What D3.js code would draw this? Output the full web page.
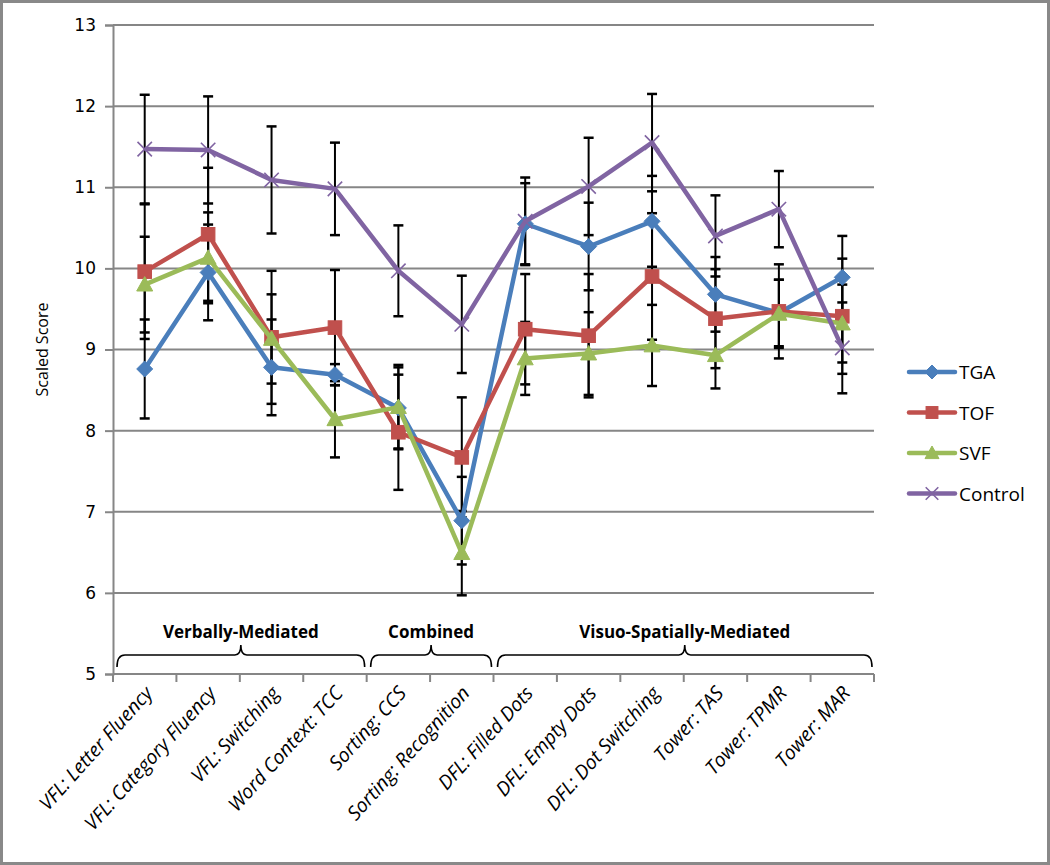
<!DOCTYPE html>
<html>
<head>
<meta charset="utf-8">
<script src="https://cdn.jsdelivr.net/npm/d3@7"></script>
<style>
  body { margin: 0; background: #fff; }
  svg { display: block; }
</style>
</head>
<body>
<div id="chart"></div>
<script>
// categories along the x axis
const categories = [
    "VFL: Letter Fluency", "VFL: Category Fluency", "VFL: Switching", "Word Context: TCC",
    "Sorting: CCS", "Sorting: Recognition", "DFL: Filled Dots", "DFL: Empty Dots",
    "DFL: Dot Switching", "Tower: TAS", "Tower: TPMR", "Tower: MAR"
]

// bracket groups (first and last category index)
const groupNames = ["Verbally-Mediated", "Combined", "Visuo-Spatially-Mediated"]
const groupFrom = [0, 4, 6]
const groupTo = [3, 5, 11]

// means and error bar half-widths
const tga = [8.76, 9.95, 8.78, 8.69, 8.28, 6.89, 10.55, 10.27, 10.58, 9.68, 9.45, 9.89]
const tgaErr = [0.61, 0.59, 0.59, 0.13, 0.50, 0.54, 0.50, 0.54, 0.56, 0.46, 0.41, 0.51]
const tof = [9.96, 10.42, 9.15, 9.27, 7.98, 7.67, 9.25, 9.17, 9.90, 9.38, 9.47, 9.41]
const tofErr = [0.83, 0.82, 0.82, 0.71, 0.71, 0.74, 0.68, 0.76, 0.78, 0.61, 0.58, 0.71]
const svf = [9.80, 10.13, 9.13, 8.14, 8.29, 6.49, 8.89, 8.95, 9.05, 8.93, 9.44, 9.32]
const svfErr = [0.59, 0.56, 0.55, 0.47, 0.52, 0.52, 0.45, 0.51, 0.50, 0.41, 0.42, 0.48]
const control = [11.47, 11.46, 11.09, 10.98, 9.97, 9.31, 10.58, 11.01, 11.55, 10.40, 10.73, 9.02]
const controlErr = [0.67, 0.66, 0.66, 0.57, 0.56, 0.60, 0.54, 0.60, 0.60, 0.50, 0.47, 0.56]

const seriesNames = ["TGA", "TOF", "SVF", "Control"]
const seriesColors = ["#4A7EBB", "#C0504D", "#9BBB59", "#8064A2"]
const seriesMarkers = ["diamond", "square", "triangle", "cross"]
const yTicks = [5, 6, 7, 8, 9, 10, 11, 12, 13]

const series = seriesNames.map((name, i) => ({
    name: name,
    color: seriesColors[i],
    marker: seriesMarkers[i],
    values: [tga, tof, svf, control][i],
    errs: [tgaErr, tofErr, svfErr, controlErr][i]
}))

const W = 1050, H = 865
const plotL = 113, plotR = 874, plotT = 25, plotB = 674
const gridColor = "#868686"

const svg = d3.select("#chart").append("svg")
    .attr("width", W)
    .attr("height", H)

const x = d3.scaleBand().domain(categories).range([plotL, plotR])
const y = d3.scaleLinear().domain([5, 13]).range([plotB, plotT])
const cx = i => x(categories[i]) + x.bandwidth() / 2

// outer border
svg.append("rect")
    .attr("x", 1.5).attr("y", 1.5)
    .attr("width", W - 3).attr("height", H - 3)
    .attr("fill", "#fff")
    .attr("stroke", "#898989")
    .attr("stroke-width", 3)

// gridlines
svg.append("g")
    .selectAll("line")
    .data(yTicks.slice(1))
    .join("line")
    .attr("x1", plotL).attr("x2", plotR)
    .attr("y1", d => y(d)).attr("y2", d => y(d))
    .attr("stroke", gridColor)
    .attr("stroke-width", 2)

// y axis
const yAxis = svg.append("g")
    .attr("transform", `translate(${plotL},0)`)
    .call(d3.axisLeft(y).tickValues(yTicks).tickSize(8).tickPadding(9).tickFormat(d3.format("d")))
yAxis.select(".domain").attr("stroke", gridColor).attr("stroke-width", 2)
yAxis.selectAll(".tick line").attr("stroke", gridColor).attr("stroke-width", 2)
yAxis.selectAll("text")
    .style("font-family", "'DejaVu Sans', sans-serif")
    .style("font-size", "17px")
    .attr("fill", "#000")

// x axis: ticks on the category boundaries
const xAxis = svg.append("g")
    .attr("transform", `translate(0,${plotB})`)
xAxis.append("line")
    .attr("x1", plotL).attr("x2", plotR)
    .attr("stroke", gridColor).attr("stroke-width", 2)
xAxis.selectAll("line.tk")
    .data(d3.range(categories.length + 1))
    .join("line")
    .attr("class", "tk")
    .attr("x1", i => plotL + i * x.step()).attr("x2", i => plotL + i * x.step())
    .attr("y1", 0).attr("y2", 8)
    .attr("stroke", gridColor).attr("stroke-width", 2)

svg.append("g")
    .selectAll("text")
    .data(categories)
    .join("text")
    .attr("transform", (d, i) => `translate(${cx(i) + 9},${plotB + 20}) rotate(-48)`)
    .attr("text-anchor", "end")
    .style("font-family", "'Open Sans', sans-serif")
    .style("font-style", "italic")
    .style("font-size", "19.5px")
    .text(d => d)

// y title
svg.append("text")
    .attr("transform", `translate(48,${(plotT + plotB) / 2}) rotate(-90)`)
    .attr("text-anchor", "middle")
    .style("font-family", "'Open Sans', sans-serif")
    .style("font-size", "16px")
    .text("Scaled Score")

// group braces and labels
const braceTop = 655, braceEnd = 667, braceTip = 645
groupNames.forEach((name, g) => {
    const x0 = x(categories[groupFrom[g]]) + 4
    const x1 = x(categories[groupTo[g]]) + x.bandwidth() - 2
    const mid = (x0 + x1) / 2
    const p = d3.path()
    p.moveTo(x0, braceEnd)
    p.quadraticCurveTo(x0, braceTop, x0 + 8, braceTop)
    p.lineTo(mid - 6, braceTop)
    p.quadraticCurveTo(mid, braceTop, mid, braceTip)
    p.quadraticCurveTo(mid, braceTop, mid + 6, braceTop)
    p.lineTo(x1 - 8, braceTop)
    p.quadraticCurveTo(x1, braceTop, x1, braceEnd)
    svg.append("path")
        .attr("d", p.toString())
        .attr("fill", "none")
        .attr("stroke", "#000")
        .attr("stroke-width", 1.6)
    svg.append("text")
        .attr("x", mid)
        .attr("y", 638)
        .attr("text-anchor", "middle")
        .style("font-family", "'Open Sans', sans-serif")
        .style("font-weight", "bold")
        .style("font-size", "17px")
        .text(name)
})

// error bars
const capW = 5
const errG = svg.append("g")
series.forEach(s => {
    s.values.forEach((v, i) => {
        const lo = y(v - s.errs[i]), hi = y(v + s.errs[i])
        errG.append("line")
            .attr("x1", cx(i)).attr("x2", cx(i))
            .attr("y1", lo).attr("y2", hi)
            .attr("stroke", "#000").attr("stroke-width", 2)
        ;[lo, hi].forEach(yy => {
            errG.append("line")
                .attr("x1", cx(i) - capW).attr("x2", cx(i) + capW)
                .attr("y1", yy).attr("y2", yy)
                .attr("stroke", "#000").attr("stroke-width", 2.5)
        })
    })
})

const drawMarker = (g, type, color, px, py, sz) => {
    if (type === "diamond") {
        g.append("path")
            .attr("d", `M${px},${py - sz}L${px + sz},${py}L${px},${py + sz}L${px - sz},${py}Z`)
            .attr("fill", color).attr("stroke", color).attr("stroke-width", 1)
    } else if (type === "square") {
        g.append("rect")
            .attr("x", px - sz * 0.85).attr("y", py - sz * 0.85)
            .attr("width", sz * 1.7).attr("height", sz * 1.7)
            .attr("fill", color).attr("stroke", color).attr("stroke-width", 1)
    } else if (type === "triangle") {
        g.append("path")
            .attr("d", `M${px},${py - sz}L${px + sz},${py + sz * 0.8}L${px - sz},${py + sz * 0.8}Z`)
            .attr("fill", color).attr("stroke", color).attr("stroke-width", 1)
    } else {
        const d = sz * 0.9
        g.append("path")
            .attr("d", `M${px - d},${py - d}L${px + d},${py + d}M${px - d},${py + d}L${px + d},${py - d}`)
            .attr("stroke", color).attr("stroke-width", 1.6).attr("fill", "none")
    }
}

// lines and markers
const line = d3.line()
    .x((d, i) => cx(i))
    .y(d => y(d))

series.forEach(s => {
    const g = svg.append("g")
    g.append("path")
        .datum(s.values)
        .attr("d", line)
        .attr("fill", "none")
        .attr("stroke", s.color)
        .attr("stroke-width", 4.5)
        .attr("stroke-linejoin", "round")
    s.values.forEach((v, i) => drawMarker(g, s.marker, s.color, cx(i), y(v), 8))
})

// legend
const legend = svg.append("g")
series.forEach((s, i) => {
    const ly = 372 + i * 40.5
    legend.append("line")
        .attr("x1", 909).attr("x2", 955)
        .attr("y1", ly).attr("y2", ly)
        .attr("stroke", s.color).attr("stroke-width", 4.5)
        .attr("stroke-linecap", "round")
    drawMarker(legend, s.marker, s.color, 932, ly, 7)
    legend.append("text")
        .attr("x", 959)
        .attr("y", ly + 7)
        .style("font-family", "'Open Sans', sans-serif")
        .style("font-size", "19px")
        .text(s.name)
})
</script>
</body>
</html>
